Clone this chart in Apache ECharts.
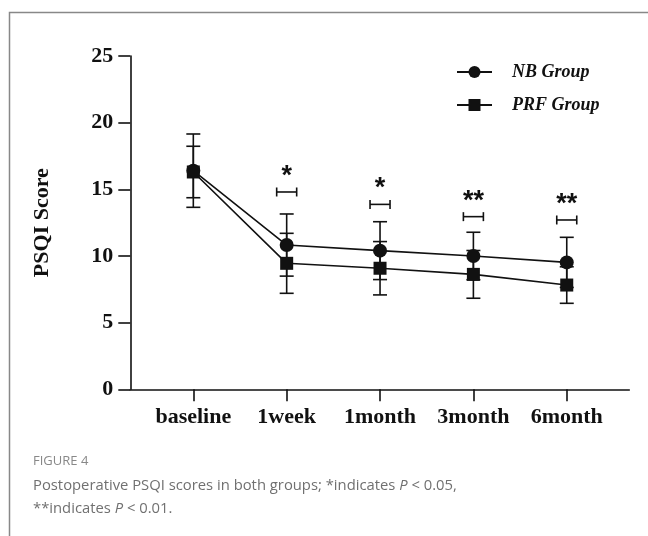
<!DOCTYPE html>
<html>
<head>
<meta charset="utf-8">
<script src="https://cdn.jsdelivr.net/npm/echarts@6/dist/echarts.min.js"></script>
<style>
html,body{margin:0;padding:0;background:#fff;}
#chart{width:648px;height:536px;}
</style>
</head>
<body>
<div id="chart"></div>
<script>
const categories = ['baseline', '1week', '1month', '3month', '6month'];
const nbMean = [16.4, 10.82, 10.4, 10.0, 9.52];
const nbSD = [2.75, 2.33, 2.17, 1.78, 1.88];
const prfMean = [16.3, 9.45, 9.08, 8.62, 7.82];
const prfSD = [1.93, 2.25, 2.0, 1.79, 1.37];
const sigY = [null, 14.8, 13.87, 12.95, 12.7];
const sigMark = ['', '*', '*', '**', '**'];
const yMin = 0, yMax = 25, yStep = 5;

const serif = 'Liberation Serif';

function errData(mean, sd) {
  return mean.map((m, i) => [i, m - sd[i], m + sd[i]]);
}
function renderErr(params, api) {
  const x = api.value(0);
  const lo = api.coord([x, api.value(1)]);
  const hi = api.coord([x, api.value(2)]);
  const w = 7;
  const st = { stroke: '#111', lineWidth: 1.6 };
  return {
    type: 'group',
    children: [
      { type: 'line', shape: { x1: lo[0], y1: lo[1], x2: hi[0], y2: hi[1] }, style: st },
      { type: 'line', shape: { x1: hi[0] - w, y1: hi[1], x2: hi[0] + w, y2: hi[1] }, style: st },
      { type: 'line', shape: { x1: lo[0] - w, y1: lo[1], x2: lo[0] + w, y2: lo[1] }, style: st }
    ]
  };
}
function renderSig(params, api) {
  const p = api.coord([api.value(0), api.value(1)]);
  const w = 10, h = 4.5;
  const st = { stroke: '#111', lineWidth: 1.6 };
  return {
    type: 'group',
    children: [
      { type: 'line', shape: { x1: p[0] - w, y1: p[1], x2: p[0] + w, y2: p[1] }, style: st },
      { type: 'line', shape: { x1: p[0] - w, y1: p[1] - h, x2: p[0] - w, y2: p[1] + h }, style: st },
      { type: 'line', shape: { x1: p[0] + w, y1: p[1] - h, x2: p[0] + w, y2: p[1] + h }, style: st },
      { type: 'text', x: p[0], y: p[1] - 2, style: { text: sigMark[api.value(0)], fill: '#111', font: 'bold 27px "Liberation Sans"', textAlign: 'center', textVerticalAlign: 'bottom' } }
    ]
  };
}

const sigData = [];
sigY.forEach((v, i) => { if (v !== null) sigData.push([i, v]); });

const chart = echarts.init(document.getElementById('chart'), null, { renderer: 'canvas' });
chart.setOption({
  backgroundColor: '#fff',
  animation: false,
  grid: { left: 130.3, right: 18.7, top: 56, bottom: 146.7 },
  legend: {
    orient: 'vertical',
    left: 451,
    top: 57,
    itemWidth: 35,
    itemHeight: 15,
    itemGap: 13,
    data: ['NB Group', 'PRF Group'],
    textStyle: { fontFamily: serif, fontWeight: 'bold', fontStyle: 'italic', fontSize: 18, color: '#111', padding: [0, 0, 0, 15], lineHeight: 20 }
  },
  xAxis: {
    type: 'value',
    min: -0.675,
    max: 4.67,
    splitLine: { show: false },
    axisLine: { show: true, lineStyle: { color: '#111', width: 1.6 } },
    axisTick: { show: true, length: 12, customValues: [0, 1, 2, 3, 4], lineStyle: { color: '#111', width: 1.6 } },
    axisLabel: {
      customValues: [0, 1, 2, 3, 4],
      formatter: v => categories[Math.round(v)],
      fontFamily: serif, fontWeight: 'bold', fontSize: 22, color: '#111', margin: 17
    }
  },
  yAxis: {
    type: 'value',
    min: yMin, max: yMax, interval: yStep,
    name: 'PSQI Score',
    nameLocation: 'middle',
    nameGap: 77,
    nameTextStyle: { fontFamily: serif, fontWeight: 'bold', fontSize: 22, color: '#111' },
    splitLine: { show: false },
    axisLine: { show: true, onZero: false, lineStyle: { color: '#111', width: 1.6 } },
    axisTick: { show: true, length: 12, lineStyle: { color: '#111', width: 1.6 } },
    axisLabel: { fontFamily: serif, fontWeight: 'bold', fontSize: 22, color: '#111', margin: 17 }
  },
  series: [
    { name: 'nbErr', type: 'custom', renderItem: renderErr, data: errData(nbMean, nbSD), z: 1, silent: true },
    { name: 'prfErr', type: 'custom', renderItem: renderErr, data: errData(prfMean, prfSD), z: 1, silent: true },
    {
      name: 'NB Group', type: 'line', data: nbMean.map((m, i) => [i, m]),
      symbol: 'circle', symbolSize: 14, z: 3,
      lineStyle: { color: '#111', width: 1.6 }, itemStyle: { color: '#111' }
    },
    {
      name: 'PRF Group', type: 'line', data: prfMean.map((m, i) => [i, m]),
      symbol: 'rect', symbolSize: 13, z: 4,
      lineStyle: { color: '#111', width: 1.6 }, itemStyle: { color: '#111' }
    },
    { name: 'sig', type: 'custom', renderItem: renderSig, data: sigData, z: 5, silent: true }
  ],
  graphic: [
    { type: 'polyline', shape: { points: [[9.5, 540], [9.5, 12.5], [650, 12.5]] }, style: { stroke: '#888', lineWidth: 1.5, fill: null } },
    { type: 'text', left: 33, top: 455, style: { text: 'FIGURE 4', font: '13px "Open Sans"', fill: '#888' } },
    {
      type: 'text', left: 33, top: 478,
      style: {
        text: '{n|Postoperative PSQI scores in both groups; *indicates }{i|P}{n| < 0.05,}\n{n|**indicates }{i|P}{n| < 0.01.}',
        rich: {
          n: { font: '14.8px "Open Sans"', fill: '#707070', lineHeight: 23 },
          i: { font: 'italic 14.8px "Open Sans"', fill: '#707070', lineHeight: 23 }
        }
      }
    }
  ]
});
</script>
</body>
</html>
